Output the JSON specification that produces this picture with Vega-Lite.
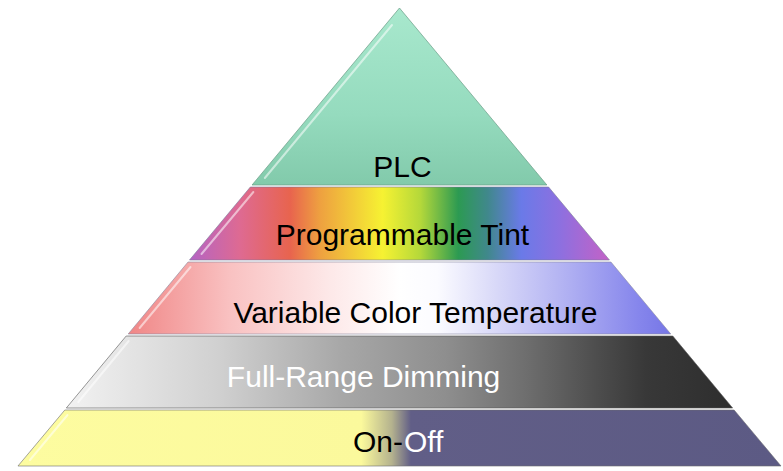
{
  "$schema": "https://vega.github.io/schema/vega-lite/v6.json",
  "width": 783,
  "height": 471,
  "padding": 0,
  "autosize": {"type": "fit", "contains": "padding"},
  "background": "white",
  "config": {"view": {"stroke": null}},
  "datasets": {
    "bands": [
      {"band": "PLC", "y": 8, "xl": 400.5, "xr": 400.5},
      {"band": "PLC", "y": 185, "xl": 252.7, "xr": 548.3},
      {"band": "Tint", "y": 187, "xl": 251, "xr": 550},
      {"band": "Tint", "y": 260, "xl": 190, "xr": 611},
      {"band": "CCT", "y": 262, "xl": 188.5, "xr": 612.5},
      {"band": "CCT", "y": 334, "xl": 128.5, "xr": 672.5},
      {"band": "Dim", "y": 336, "xl": 126.5, "xr": 674.5},
      {"band": "Dim", "y": 408, "xl": 66.5, "xr": 734.5},
      {"band": "OnOff", "y": 410, "xl": 65, "xr": 736},
      {"band": "OnOff", "y": 466, "xl": 18, "xr": 783}
    ],
    "bevels": [
      {"band": "PLC", "y": 25, "xl": 393},
      {"band": "PLC", "y": 178, "xl": 265.5},
      {"band": "Tint", "y": 192, "xl": 254},
      {"band": "Tint", "y": 254, "xl": 202},
      {"band": "CCT", "y": 267, "xl": 191},
      {"band": "CCT", "y": 328, "xl": 140},
      {"band": "Dim", "y": 341, "xl": 129},
      {"band": "Dim", "y": 402, "xl": 78.5},
      {"band": "OnOff", "y": 415, "xl": 67.7},
      {"band": "OnOff", "y": 460, "xl": 30}
    ],
    "labels": [
      {"label": "PLC", "x": 403.5, "y": 177, "pos": "center"},
      {"label": "Programmable Tint", "x": 403.5, "y": 245, "pos": "center"},
      {"label": "Variable Color Temperature", "x": 416.5, "y": 323, "pos": "center"},
      {"label": "Full-Range Dimming", "x": 364.5, "y": 387, "pos": "center"},
      {"label": "On-", "x": 404, "y": 452, "pos": "right"},
      {"label": "Off", "x": 405, "y": 452, "pos": "left"}
    ]
  },
  "encoding": {
    "y": {"field": "y", "type": "quantitative", "scale": {"domain": [0, 471], "reverse": true, "nice": false, "zero": false}, "axis": null},
    "x": {"field": "xl", "type": "quantitative", "scale": {"domain": [0, 783], "nice": false, "zero": false}, "axis": null}
  },
  "layer": [
    {
      "data": {"name": "bands"},
      "transform": [{"filter": "datum.band === 'PLC'"}],
      "mark": {"type": "area", "orient": "horizontal", "stroke": "#6a9c86", "strokeWidth": 1, "strokeOpacity": 0.7,
        "fill": {"gradient": "linear", "x1": 0, "y1": 0, "x2": 0, "y2": 1,
          "stops": [{"offset": 0, "color": "#a8e8cd"}, {"offset": 0.6, "color": "#95dbbe"}, {"offset": 1, "color": "#82caab"}]}},
      "encoding": {"x2": {"field": "xr"}}
    },
    {
      "data": {"name": "bands"},
      "transform": [{"filter": "datum.band === 'Tint'"}],
      "mark": {"type": "area", "orient": "horizontal", "stroke": "#7a7a9a", "strokeWidth": 1, "strokeOpacity": 0.6,
        "fill": {"gradient": "linear", "x1": 0, "y1": 0, "x2": 1, "y2": 0,
          "stops": [
            {"offset": 0, "color": "#b464c4"},
            {"offset": 0.12, "color": "#de6a92"},
            {"offset": 0.24, "color": "#e8644e"},
            {"offset": 0.31, "color": "#eea040"},
            {"offset": 0.46, "color": "#f6f232"},
            {"offset": 0.55, "color": "#b4d83a"},
            {"offset": 0.64, "color": "#2c9a52"},
            {"offset": 0.71, "color": "#40888c"},
            {"offset": 0.79, "color": "#6a7ae8"},
            {"offset": 0.88, "color": "#8c70e0"},
            {"offset": 1, "color": "#c462c6"}
          ]}},
      "encoding": {"x2": {"field": "xr"}}
    },
    {
      "data": {"name": "bands"},
      "transform": [{"filter": "datum.band === 'CCT'"}],
      "mark": {"type": "area", "orient": "horizontal", "stroke": "#8a8aa0", "strokeWidth": 1, "strokeOpacity": 0.6,
        "fill": {"gradient": "linear", "x1": 0, "y1": 0, "x2": 1, "y2": 0,
          "stops": [
            {"offset": 0, "color": "#f08686"},
            {"offset": 0.19, "color": "#f9c2c2"},
            {"offset": 0.37, "color": "#fde8e8"},
            {"offset": 0.5, "color": "#ffffff"},
            {"offset": 0.57, "color": "#fbfbff"},
            {"offset": 0.68, "color": "#d8d8f8"},
            {"offset": 0.81, "color": "#b0b0f2"},
            {"offset": 0.94, "color": "#8686ec"},
            {"offset": 1, "color": "#7676e6"}
          ]}},
      "encoding": {"x2": {"field": "xr"}}
    },
    {
      "data": {"name": "bands"},
      "transform": [{"filter": "datum.band === 'Dim'"}],
      "mark": {"type": "area", "orient": "horizontal", "stroke": "#555555", "strokeWidth": 1, "strokeOpacity": 0.6,
        "fill": {"gradient": "linear", "x1": 0, "y1": 0, "x2": 1, "y2": 0,
          "stops": [
            {"offset": 0, "color": "#f2f2f2"},
            {"offset": 0.23, "color": "#d0d0d0"},
            {"offset": 0.41, "color": "#a8a8a8"},
            {"offset": 0.57, "color": "#8e8e8e"},
            {"offset": 0.69, "color": "#6e6e6e"},
            {"offset": 0.8, "color": "#4c4c4c"},
            {"offset": 0.87, "color": "#383838"},
            {"offset": 1, "color": "#2e2e2e"}
          ]}},
      "encoding": {"x2": {"field": "xr"}}
    },
    {
      "data": {"name": "bands"},
      "transform": [{"filter": "datum.band === 'OnOff'"}],
      "mark": {"type": "area", "orient": "horizontal", "stroke": "#6a6a70", "strokeWidth": 1, "strokeOpacity": 0.6,
        "fill": {"gradient": "linear", "x1": 0, "y1": 0, "x2": 1, "y2": 0,
          "stops": [
            {"offset": 0, "color": "#fdfca0"},
            {"offset": 0.45, "color": "#fbf99c"},
            {"offset": 0.49, "color": "#b4b28e"},
            {"offset": 0.515, "color": "#615e87"},
            {"offset": 1, "color": "#5c5a84"}
          ]}},
      "encoding": {"x2": {"field": "xr"}}
    },
    {
      "data": {"name": "bevels"},
      "mark": {"type": "line", "color": "#ffffff", "strokeWidth": 2, "opacity": 0.55, "strokeCap": "round"},
      "encoding": {"detail": {"field": "band"}}
    },
    {
      "data": {"name": "labels"},
      "transform": [{"filter": "datum.pos === 'center'"}],
      "mark": {"type": "text", "align": "center", "baseline": "alphabetic", "font": "Liberation Sans", "fontSize": 30},
      "encoding": {
        "x": {"field": "x", "type": "quantitative"},
        "text": {"field": "label"},
        "color": {"condition": {"test": "datum.label === 'Full-Range Dimming'", "value": "#ffffff"}, "value": "#000000"}
      }
    },
    {
      "data": {"name": "labels"},
      "transform": [{"filter": "datum.pos === 'right'"}],
      "mark": {"type": "text", "align": "right", "baseline": "alphabetic", "font": "Liberation Sans", "fontSize": 30, "color": "#000000"},
      "encoding": {
        "x": {"field": "x", "type": "quantitative"},
        "text": {"field": "label"}
      }
    },
    {
      "data": {"name": "labels"},
      "transform": [{"filter": "datum.pos === 'left'"}],
      "mark": {"type": "text", "align": "left", "baseline": "alphabetic", "font": "Liberation Sans", "fontSize": 30, "color": "#ffffff"},
      "encoding": {
        "x": {"field": "x", "type": "quantitative"},
        "text": {"field": "label"}
      }
    }
  ]
}
